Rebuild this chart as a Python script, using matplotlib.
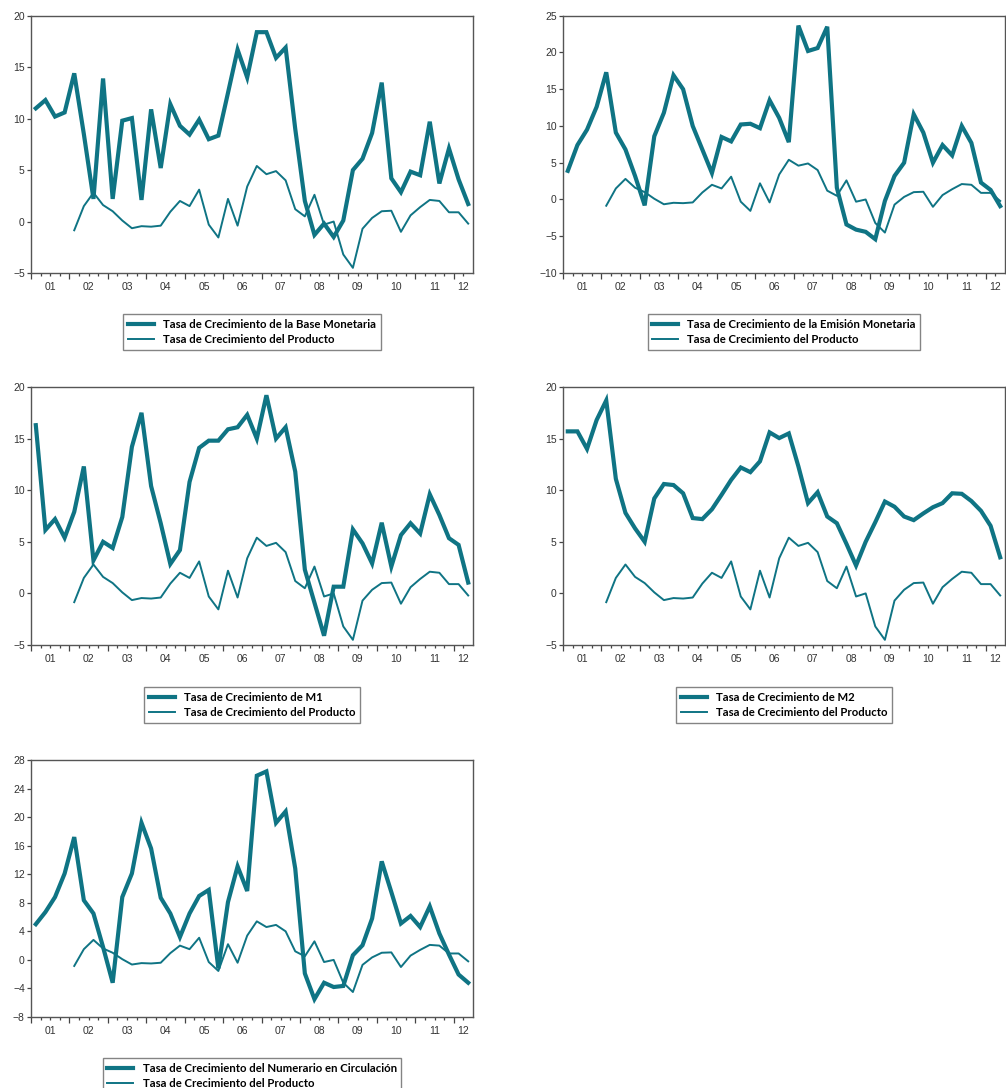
import matplotlib
matplotlib.use("Agg")
import matplotlib.pyplot as plt
import numpy as np

# Quarterly data 2001Q1 - 2012Q2 (46 quarters); product starts 2002Q1
years = ["01", "02", "03", "04", "05", "06", "07", "08", "09", "10", "11", "12"]

producto = [-0.85, 1.5, 2.8, 1.6, 1.0, 0.1, -0.65, -0.45, -0.5, -0.4,
            0.95, 2.0, 1.5, 3.1, -0.3, -1.55, 2.2, -0.4, 3.4, 5.4,
            4.6, 4.9, 4.0, 1.2, 0.5, 2.6, -0.3, 0.0, -3.2, -4.5,
            -0.7, 0.35, 1.0, 1.05, -1.0, 0.6, 1.4, 2.1, 2.0, 0.9,
            0.9, -0.2]

base_monetaria = [11.0, 11.8, 10.2, 10.6, 14.4, 8.5, 2.2, 13.9, 2.2, 9.8,
                  10.05, 2.1, 10.9, 5.2, 11.4, 9.3, 8.45, 9.9, 8.0, 8.35,
                  12.5, 16.7, 14.0, 18.4, 18.4, 15.9, 16.9, 9.0, 2.0, -1.3,
                  -0.2, -1.5, 0.1, 5.0, 6.1, 8.6, 13.5, 4.2, 2.85, 4.85,
                  4.5, 9.7, 3.7, 7.1, 4.1, 1.7]

emision_monetaria = [3.9, 7.4, 9.5, 12.6, 17.3, 9.1, 6.8, 3.2, -0.8, 8.6,
                     11.8, 16.9, 15.0, 10.0, 6.8, 3.6, 8.5, 7.9, 10.2, 10.3,
                     9.7, 13.5, 11.1, 7.8, 23.65, 20.2, 20.6, 23.5, 1.6, -3.4,
                     -4.1, -4.4, -5.4, -0.2, 3.2, 5.0, 11.6, 9.1, 5.0, 7.4,
                     6.0, 10.0, 7.7, 2.3, 1.3, -0.9]

m1 = [16.3, 6.15, 7.2, 5.4, 7.9, 12.3, 3.2, 5.0, 4.4, 7.4,
      14.2, 17.5, 10.4, 6.8, 2.85, 4.2, 10.8, 14.1, 14.8, 14.8,
      15.9, 16.1, 17.3, 15.0, 19.2, 15.0, 16.1, 11.8, 2.3, -0.9,
      -4.1, 0.65, 0.65, 6.2, 4.85, 2.9, 6.85, 2.6, 5.65, 6.8,
      5.8, 9.6, 7.6, 5.35, 4.7, 1.05]

m2 = [15.7, 15.7, 14.0, 16.8, 18.7, 11.1, 7.8, 6.3, 5.0, 9.2,
      10.6, 10.5, 9.7, 7.3, 7.2, 8.15, 9.55, 11.0, 12.2, 11.75,
      12.8, 15.6, 15.05, 15.5, 12.3, 8.75, 9.8, 7.45, 6.8, 4.8,
      2.7, 5.0, 6.9, 8.9, 8.4, 7.45, 7.1, 7.75, 8.35, 8.75,
      9.7, 9.65, 8.95, 8.0, 6.55, 3.5]

numerario = [5.0, 6.7, 8.8, 12.1, 17.2, 8.35, 6.5, 1.8, -3.2, 8.8,
             12.1, 19.2, 15.6, 8.7, 6.5, 3.2, 6.5, 8.95, 9.8, -1.2,
             8.1, 13.1, 9.65, 25.8, 26.4, 19.2, 20.8, 12.8, -1.9, -5.5,
             -3.2, -3.8, -3.65, 0.65, 2.05, 5.8, 13.8, 9.5, 5.1, 6.15,
             4.6, 7.5, 3.7, 0.75, -2.05, -3.2]

labels = ["Tasa de Crecimiento de la Base Monetaria",
          "Tasa de Crecimiento de la Emisión Monetaria",
          "Tasa de Crecimiento de M1",
          "Tasa de Crecimiento de M2",
          "Tasa de Crecimiento del Numerario en Circulación"]
prod_label = "Tasa de Crecimiento del Producto"

series = [base_monetaria, emision_monetaria, m1, m2, numerario]
ylims = [(-5, 20, 5), (-10, 25, 5), (-5, 20, 5), (-5, 20, 5), (-8, 28, 4)]

W, H = 1006, 1088
fig = plt.figure(figsize=(W / 100, H / 100), dpi=100)

# axes boxes in pixels: left, top, right, bottom
boxes = [(31, 15.7, 473, 273), (563, 15.7, 1005, 273),
         (31, 387, 473, 645), (563, 387, 1005, 645),
         (31, 760, 473, 1017)]
legend_tops = [314, 314, 687, 687, 1058]

color = "#0f7484"
n_q = len(base_monetaria)
x_money = np.arange(n_q) + 0.5
x_prod = np.arange(n_q - len(producto), n_q) + 0.5

year_starts = np.arange(0, n_q + 1, 4)
minor_pos = [q for q in range(1, n_q) if q % 4 != 0]
label_pos = {4 * i + 2: years[i] for i in range(len(years) - 1)}
label_pos[45] = years[-1]
minor_labels = [label_pos.get(q, "") for q in minor_pos]

for i, (l, t, r, b) in enumerate(boxes):
    ax = fig.add_axes([l / W, 1 - b / H, (r - l) / W, (b - t) / H])
    thick, = ax.plot(x_money, series[i], color=color, lw=3.0,
                     solid_joinstyle="miter", label=labels[i])
    thin, = ax.plot(x_prod, producto, color=color, lw=1.4, label=prod_label)
    lo, hi, step = ylims[i]
    ax.set_ylim(lo, hi)
    ax.set_yticks(np.arange(lo, hi + 0.1, step))
    ax.set_xlim(0, n_q)
    ax.set_xticks(year_starts)
    ax.set_xticklabels([""] * len(year_starts))
    ax.set_xticks(minor_pos, minor=True)
    ax.set_xticklabels(minor_labels, minor=True)
    ax.tick_params(axis="x", which="major", length=4.5, width=0.9,
                   color="#444444", direction="out")
    ax.tick_params(axis="x", which="minor", length=2.5, width=0.9,
                   color="#444444", direction="out", pad=4,
                   labelsize=7.5, labelcolor="#333333")
    ax.tick_params(axis="y", length=3, width=0.9, color="#444444",
                   labelsize=7.5, labelcolor="#333333", pad=1.5)
    for lab in ax.get_xticklabels(minor=True) + ax.get_yticklabels():
        lab.set_family(["Liberation Sans", "DejaVu Sans"])
    for s in ax.spines.values():
        s.set_color("#555555")
        s.set_linewidth(1.0)
    cx = (l + r) / 2 / W
    leg = fig.legend(handles=[thick, thin], loc="upper center",
                     bbox_to_anchor=(cx, 1 - legend_tops[i] / H),
                     frameon=True, fancybox=False, shadow=False,
                     handlelength=2.3, handletextpad=0.8, labelspacing=0.4,
                     borderpad=0.4, borderaxespad=0,
                     prop={"family": ["Lato", "DejaVu Sans"], "weight": "bold",
                           "size": 8.2})
    leg.get_frame().set_edgecolor("#666666")
    leg.get_frame().set_linewidth(1.0)

fig.savefig("out.png", dpi=100)
